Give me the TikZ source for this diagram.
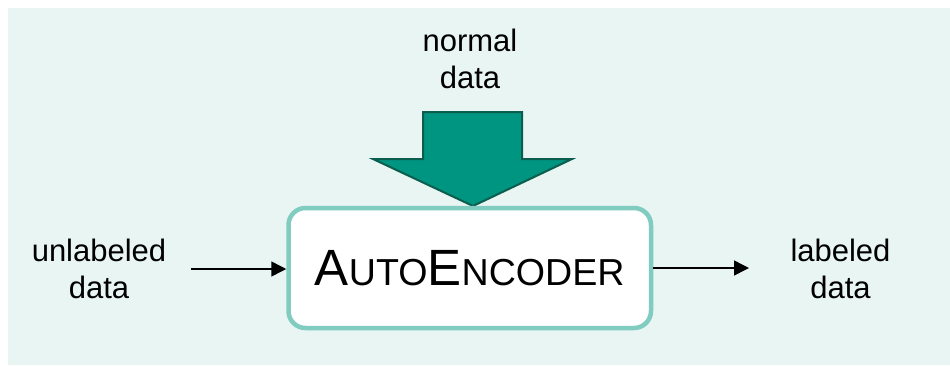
\documentclass[tikz,border=0pt]{standalone}
\usepackage{fontspec}
\setmainfont{Liberation Sans}
\usetikzlibrary{arrows.meta}

\definecolor{panelbg}{HTML}{E8F5F2}
\definecolor{boxline}{HTML}{80CCC0}
\definecolor{bigarrow}{HTML}{009580}
\definecolor{bigarrowline}{HTML}{0B5D4E}

\tikzset{
  lbl/.style={align=center, inner sep=0pt, font=\fontsize{31}{37}\selectfont},
  aebox/.style={draw=boxline, line width=4.5pt, fill=white, rounded corners=17pt,
    minimum width=362.5pt, minimum height=120pt, inner sep=0pt},
  flow/.style={line width=1.5pt, -{Triangle[length=15pt,width=15pt]}},
}

\begin{document}
\begin{tikzpicture}[x=1pt, y=-1pt]
  \useasboundingbox (0,0) rectangle (950,365);
  % background panel
  \fill[panelbg] (8,8) rectangle (950,365);

  % thick input arrow
  \filldraw[fill=bigarrow, draw=bigarrowline, line width=2pt, line join=miter]
    (423,112) -- (522,112) -- (522,159) -- (572,159) -- (473,206)
    -- (373,159) -- (423,159) -- cycle;

  % central block
  \node[aebox] (ae) at (469.75,268)
    {\fontsize{51}{60}\selectfont A\fontsize{37.6}{44}\selectfont UTO\fontsize{51}{60}\selectfont E\fontsize{37.6}{44}\selectfont NCODER};

  % labels
  \node[lbl] (norm) at (470,59) {normal\\data};
  \node[lbl] (in) at (99,268.5) {unlabeled\\data};
  \node[lbl] (out) at (840.5,268.5) {labeled\\data};

  % thin flow arrows
  \coordinate (inStart) at (191,269);
  \coordinate (outEnd) at (749,268);
  \draw[flow] (inStart) -- (ae.west |- inStart);
  \draw[flow] (ae.east |- outEnd) -- (outEnd);
\end{tikzpicture}
\end{document}
